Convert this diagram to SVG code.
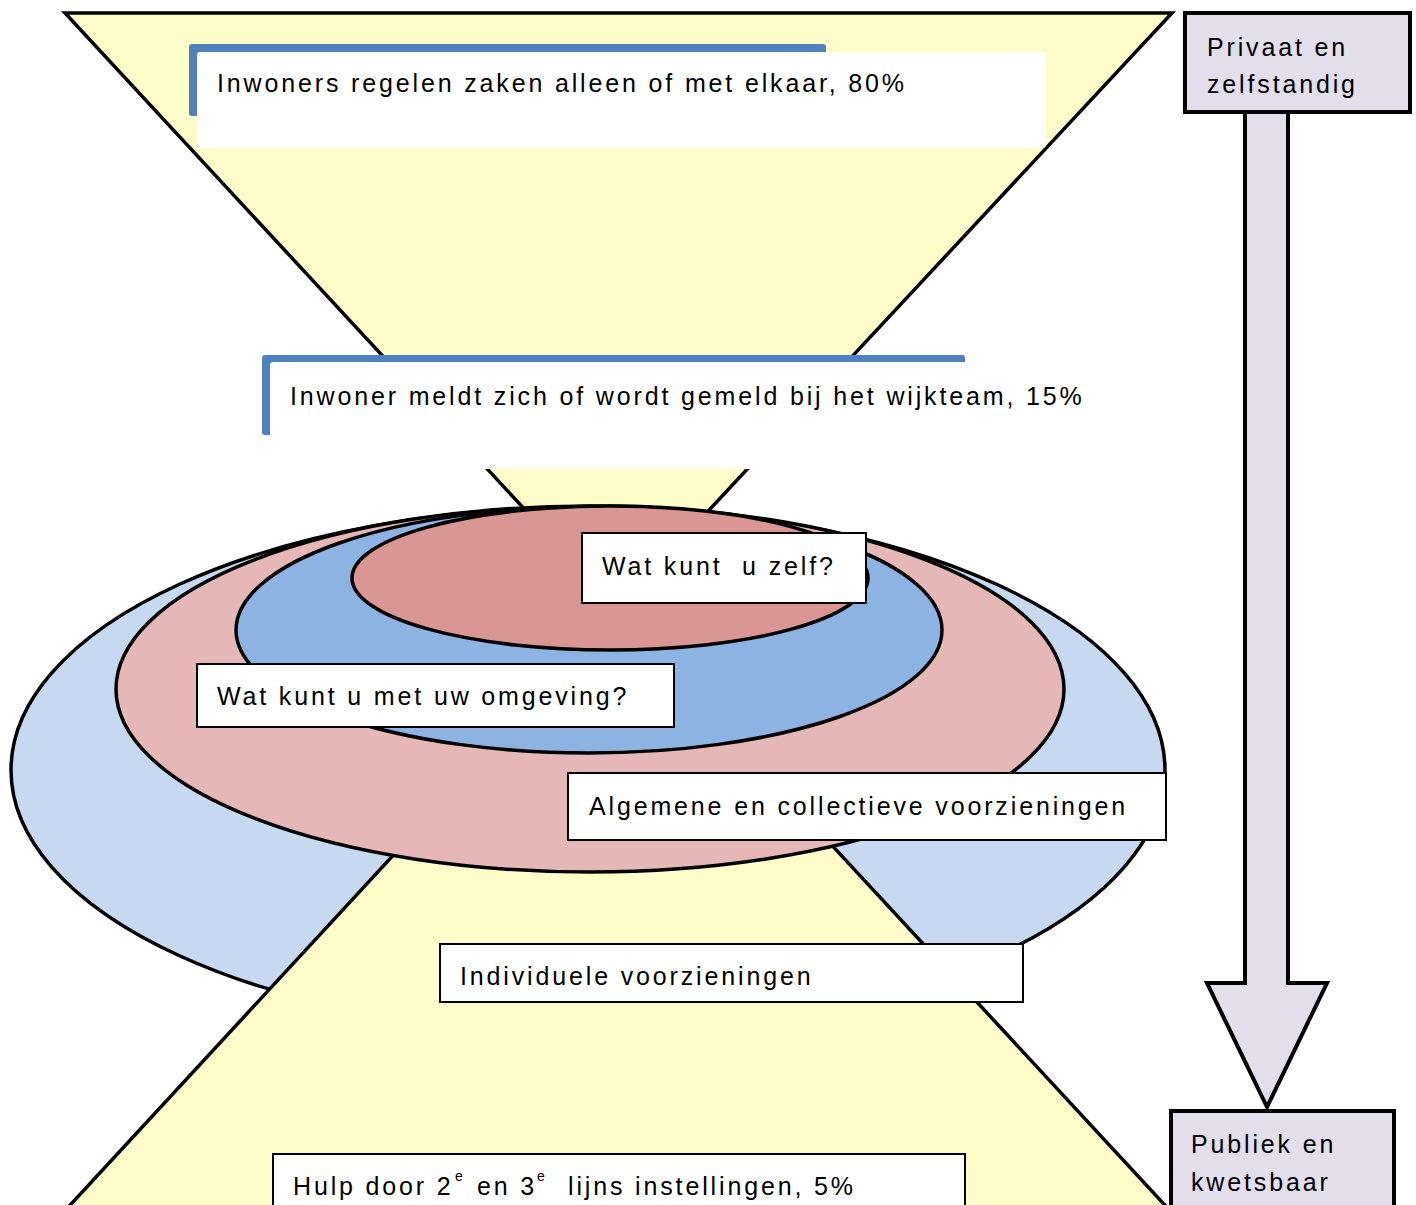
<svg xmlns="http://www.w3.org/2000/svg" width="1416" height="1205" viewBox="0 0 1416 1205">
<style>
text{font-family:"Liberation Sans",Arial,sans-serif;font-size:25px;letter-spacing:2.85px;fill:#000}
.sup{font-size:14px;letter-spacing:0}
.lbl{fill:#fff;stroke:#000;stroke-width:2}
.ell{stroke:#000;stroke-width:3.5}
.lav{fill:#E2DEEB;stroke:#000;stroke-width:4}
.blue{fill:#4F81BD}
.fun{fill:#FEFDC9;stroke:#000;stroke-width:3.5}
</style>
<rect width="1416" height="1205" fill="#fff"/>
<g id="funnel-top">
<path class="fun" d="M65,13 L1172,13 L617,609 Z"/>
</g>
<g id="step1">
<rect class="blue" x="189" y="44" width="637" height="72" rx="3"/>
<rect x="197" y="52" width="849" height="96" rx="3" fill="#fff"/>
<text x="217" y="92">Inwoners regelen zaken alleen of met elkaar, 80%</text>
</g>
<g id="step2">
<rect class="blue" x="262" y="355" width="703" height="80" rx="3"/>
<rect x="270" y="362" width="830" height="107" rx="3" fill="#fff"/>
<text x="290" y="405">Inwoner meldt zich of wordt gemeld bij het wijkteam, 15%</text>
</g>
<g id="ellipses">
<ellipse class="ell" cx="588" cy="770" rx="577" ry="263" fill="#C6D9F0"/>
<path class="fun" d="M617,613 L1174,1215 L61,1215 Z"/>
<ellipse class="ell" cx="590" cy="689" rx="474" ry="183" fill="#E5B8B7"/>
<ellipse class="ell" cx="589" cy="630" rx="353" ry="123" fill="#8DB3E2"/>
<ellipse class="ell" cx="610" cy="578" rx="258" ry="72" fill="#D99694"/>
</g>
<g id="zelf">
<rect class="lbl" x="582" y="533" width="284" height="70"/>
<text x="602" y="575" xml:space="preserve">Wat kunt  u zelf?</text>
</g>
<g id="omgeving">
<rect class="lbl" x="197" y="664" width="477" height="63"/>
<text x="217" y="705">Wat kunt u met uw omgeving?</text>
</g>
<g id="algemeen">
<rect class="lbl" x="568" y="773" width="598" height="67"/>
<text x="589" y="815">Algemene en collectieve voorzieningen</text>
</g>
<g id="individueel">
<rect class="lbl" x="440" y="944" width="583" height="58"/>
<text x="460" y="985">Individuele voorzieningen</text>
</g>
<g id="hulp">
<rect class="lbl" x="273" y="1154" width="692" height="60"/>
<text x="293" y="1195">Hulp door 2</text>
<text class="sup" x="455" y="1181">e</text>
<text x="477" y="1195">en 3</text>
<text class="sup" x="537" y="1181">e</text>
<text x="568" y="1195">lijns instellingen, 5%</text>
</g>
<g id="connectors">
<path class="lav" d="M1245,100 L1245,983 L1207,983 L1267,1107 L1327,983 L1288,983 L1288,100 Z"/>
</g>
<g id="privaat">
<rect class="lav" x="1185" y="13" width="225" height="99"/>
<text x="1207" y="56">Privaat en</text>
<text x="1207" y="93">zelfstandig</text>
</g>
<g id="publiek">
<rect class="lav" x="1171" y="1111" width="223" height="110"/>
<text x="1191" y="1153">Publiek en</text>
<text x="1191" y="1191">kwetsbaar</text>
</g>
</svg>
